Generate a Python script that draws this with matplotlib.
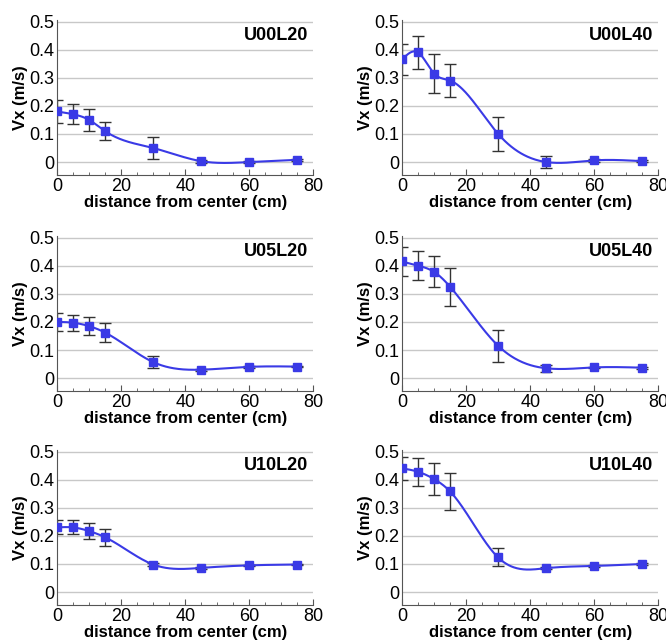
import matplotlib
matplotlib.use('Agg')
import matplotlib.pyplot as plt
import numpy as np

plt.rcParams['font.family'] = ['Liberation Sans', 'DejaVu Sans']

# distance from center (cm)
x = [0, 5, 10, 15, 30, 45, 60, 75]

names = ['U00L20', 'U00L40', 'U05L20', 'U05L40', 'U10L20', 'U10L40']

u00l20 = [0.180, 0.170, 0.150, 0.110, 0.050, 0.003, 0.000, 0.008]
u00l40 = [0.365, 0.390, 0.315, 0.290, 0.100, 0.000, 0.006, 0.003]
u05l20 = [0.200, 0.197, 0.185, 0.162, 0.057, 0.030, 0.040, 0.041]
u05l40 = [0.415, 0.400, 0.378, 0.325, 0.115, 0.035, 0.038, 0.037]
u10l20 = [0.230, 0.230, 0.217, 0.195, 0.098, 0.086, 0.095, 0.098]
u10l40 = [0.440, 0.428, 0.402, 0.358, 0.123, 0.085, 0.093, 0.100]

e00l20 = [0.040, 0.035, 0.040, 0.033, 0.038, 0.005, 0.003, 0.004]
e00l40 = [0.055, 0.060, 0.070, 0.060, 0.060, 0.022, 0.005, 0.004]
e05l20 = [0.033, 0.028, 0.032, 0.034, 0.022, 0.004, 0.003, 0.003]
e05l40 = [0.050, 0.052, 0.055, 0.067, 0.056, 0.012, 0.003, 0.003]
e10l20 = [0.025, 0.025, 0.028, 0.030, 0.006, 0.003, 0.003, 0.003]
e10l40 = [0.040, 0.050, 0.058, 0.065, 0.032, 0.004, 0.003, 0.003]

series = [u00l20, u00l40, u05l20, u05l40, u10l20, u10l40]
errors = [e00l20, e00l40, e05l20, e05l40, e10l20, e10l40]


def spline(xs, ys, n=300):
    """natural cubic spline, only used for drawing the smooth line"""
    xs = np.asarray(xs, float)
    ys = np.asarray(ys, float)
    k = len(xs)
    h = np.diff(xs)
    A = np.zeros((k, k))
    b = np.zeros(k)
    A[0, 0] = 1
    A[-1, -1] = 1
    for i in range(1, k - 1):
        A[i, i - 1] = h[i - 1]
        A[i, i] = 2 * (h[i - 1] + h[i])
        A[i, i + 1] = h[i]
        b[i] = 3 * ((ys[i + 1] - ys[i]) / h[i] - (ys[i] - ys[i - 1]) / h[i - 1])
    c = np.linalg.solve(A, b)
    xx = np.linspace(xs[0], xs[-1], n)
    yy = np.empty_like(xx)
    for j, xv in enumerate(xx):
        i = min(np.searchsorted(xs, xv, side='right') - 1, k - 2)
        dx = xv - xs[i]
        bi = (ys[i + 1] - ys[i]) / h[i] - h[i] * (2 * c[i] + c[i + 1]) / 3
        di = (c[i + 1] - c[i]) / (3 * h[i])
        yy[j] = ys[i] + bi * dx + c[i] * dx ** 2 + di * dx ** 3
    return xx, yy


fig = plt.figure(figsize=(6.66, 6.4), dpi=100)

lefts = [0.0856, 0.6036]
bottoms = [0.7266, 0.389, 0.0547]
w = 0.385
h = 0.242
blue = '#3a3ae6'

for n in range(6):
    row, col = n // 2, n % 2
    ax = fig.add_axes([lefts[col], bottoms[row], w, h])
    xx, yy = spline(x, series[n])
    ax.plot(xx, yy, color=blue, lw=1.5, zorder=3)
    ax.errorbar(x, series[n], yerr=errors[n], fmt='none', ecolor='#333333',
                elinewidth=1, capsize=4, capthick=1, zorder=2)
    ax.plot(x, series[n], 's', color=blue, ms=6, zorder=4)
    ax.set_xlim(0, 80)
    ax.set_ylim(-0.046, 0.505)
    ax.set_yticks([0, 0.1, 0.2, 0.3, 0.4, 0.5])
    ax.set_yticklabels(['0', '0.1', '0.2', '0.3', '0.4', '0.5'])
    ax.set_xticks([0, 20, 40, 60, 80])
    ax.set_xticks(np.arange(0, 81, 5), minor=True)
    ax.yaxis.grid(True, color='#c8c8c8', lw=1)
    ax.set_axisbelow(True)
    for s in ['top', 'right']:
        ax.spines[s].set_visible(False)
    ax.spines['left'].set_color('#555555')
    ax.spines['bottom'].set_color('#555555')
    ax.tick_params(axis='both', labelsize=13, direction='in', length=4,
                   color='#555555', pad=2)
    ax.tick_params(axis='x', which='minor', direction='in', length=2,
                   color='#555555')
    ax.tick_params(axis='y', length=0)
    ax.set_xlabel('distance from center (cm)', fontsize=12, fontweight='bold',
                  labelpad=0)
    ax.set_ylabel('Vx (m/s)', fontsize=12, fontweight='bold', labelpad=1)
    ax.text(0.98, 0.9, names[n], transform=ax.transAxes, ha='right',
            va='center', fontsize=13, fontweight='bold')

fig.savefig('out.png', dpi=100)
